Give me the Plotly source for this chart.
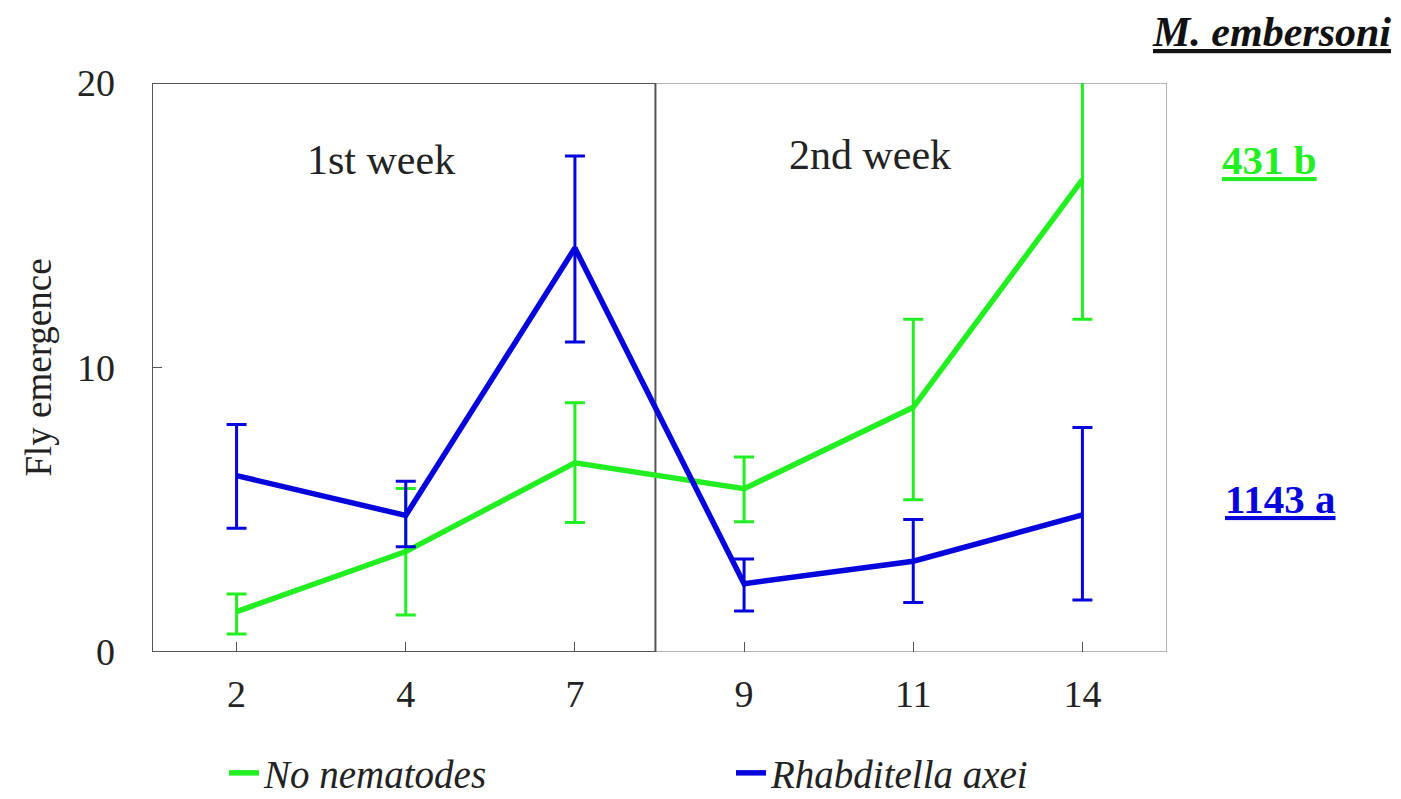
import plotly.graph_objects as go

days = ["2", "4", "7", "9", "11", "14"]
no_nem = [1.42, 3.53, 6.65, 5.74, 8.6, 16.6]
no_nem_hi = [0.62, 2.22, 2.11, 1.11, 3.1, 4.9]
no_nem_lo = [0.79, 2.23, 2.1, 1.16, 3.25, 4.9]
rhab = [6.2, 4.8, 14.2, 2.4, 3.19, 4.82]
rhab_hi = [1.8, 1.2, 3.23, 0.87, 1.47, 3.07]
rhab_lo = [1.85, 1.1, 3.3, 0.96, 1.45, 2.99]
week_labels = ["1st week", "2nd week"]
totals = ["431 b", "1143 a"]
species = "M. embersoni"

GREEN = "#22EE22"
BLUE = "#0505DC"
FONT = "Liberation Serif, Times New Roman, serif"

W, H = 1401, 799
L, R, T, B = 152, 234, 83, 147
pw, ph = W - L - R, H - T - B


def px(xpix):
    return (xpix - L) / pw


def py(ypix):
    return (H - B - ypix) / ph


fig = go.Figure()
fig.add_trace(go.Scatter(
    x=days, y=no_nem, mode="lines", name="<i>No nematodes</i>",
    line=dict(color=GREEN, width=5.5),
    error_y=dict(type="data", symmetric=False, array=no_nem_hi, arrayminus=no_nem_lo,
                 color=GREEN, thickness=3, width=10),
))
fig.add_trace(go.Scatter(
    x=days, y=rhab, mode="lines", name="<i>Rhabditella axei</i>",
    line=dict(color=BLUE, width=5.5),
    error_y=dict(type="data", symmetric=False, array=rhab_hi, arrayminus=rhab_lo,
                 color=BLUE, thickness=3, width=10),
))

# frame of the whole plot
fig.add_shape(type="rect", xref="x", yref="y", x0=-0.5, x1=5.5, y0=0, y1=20,
              line=dict(color="#9a9a9a", width=1.5), layer="below")
# first-week box
fig.add_shape(type="rect", xref="x", yref="y", x0=-0.5, x1=2.476, y0=0, y1=20,
              line=dict(color="#555555", width=2), layer="below")

fig.add_annotation(x=0.853, y=17.3, xref="x", yref="y", text=week_labels[0], showarrow=False,
                   xanchor="center", yanchor="middle",
                   font=dict(family=FONT, size=42, color="#222222"))
fig.add_annotation(x=3.744, y=17.47, xref="x", yref="y", text=week_labels[1], showarrow=False,
                   xanchor="center", yanchor="middle",
                   font=dict(family=FONT, size=42, color="#222222"))

fig.add_annotation(x=px(1271), y=py(32), xref="paper", yref="paper",
                   xanchor="center", yanchor="middle",
                   text="<b><i><u>" + species + "</u></i></b>", showarrow=False,
                   font=dict(family=FONT, size=42, color="#111111"))
fig.add_annotation(x=px(1269), y=py(160), xref="paper", yref="paper",
                   xanchor="center", yanchor="middle",
                   text="<b><u>" + totals[0] + "</u></b>", showarrow=False,
                   font=dict(family=FONT, size=41, color=GREEN))
fig.add_annotation(x=px(1280), y=py(499), xref="paper", yref="paper",
                   xanchor="center", yanchor="middle",
                   text="<b><u>" + totals[1] + "</u></b>", showarrow=False,
                   font=dict(family=FONT, size=41, color=BLUE))

fig.update_layout(
    width=W, height=H,
    margin=dict(l=L, r=R, t=T, b=B, autoexpand=False),
    paper_bgcolor="white", plot_bgcolor="white",
    font=dict(family=FONT, color="#222222"),
    showlegend=True,
    legend=dict(orientation="h", x=px(224), y=py(773), xanchor="left", yanchor="middle",
                font=dict(family=FONT, size=39, color="#222222"),
                entrywidth=462, entrywidthmode="pixels", bgcolor="rgba(0,0,0,0)"),
    xaxis=dict(type="category", range=[-0.5, 5.5], showgrid=False, zeroline=False,
               showline=False, ticks="inside", ticklen=10, tickcolor="#555555",
               tickfont=dict(family=FONT, size=38, color="#222222"),
               ticklabelstandoff=16),
    yaxis=dict(range=[0, 20], tickvals=[0, 10, 20], showgrid=False, zeroline=False,
               showline=False, ticks="inside", ticklen=10, tickcolor="#555555",
               tickfont=dict(family=FONT, size=38, color="#222222"),
               ticklabelstandoff=36,
               title=dict(text="Fly emergence", font=dict(family=FONT, size=37, color="#222222"),
                          standoff=14)),
)

fig.write_html("out.html")
